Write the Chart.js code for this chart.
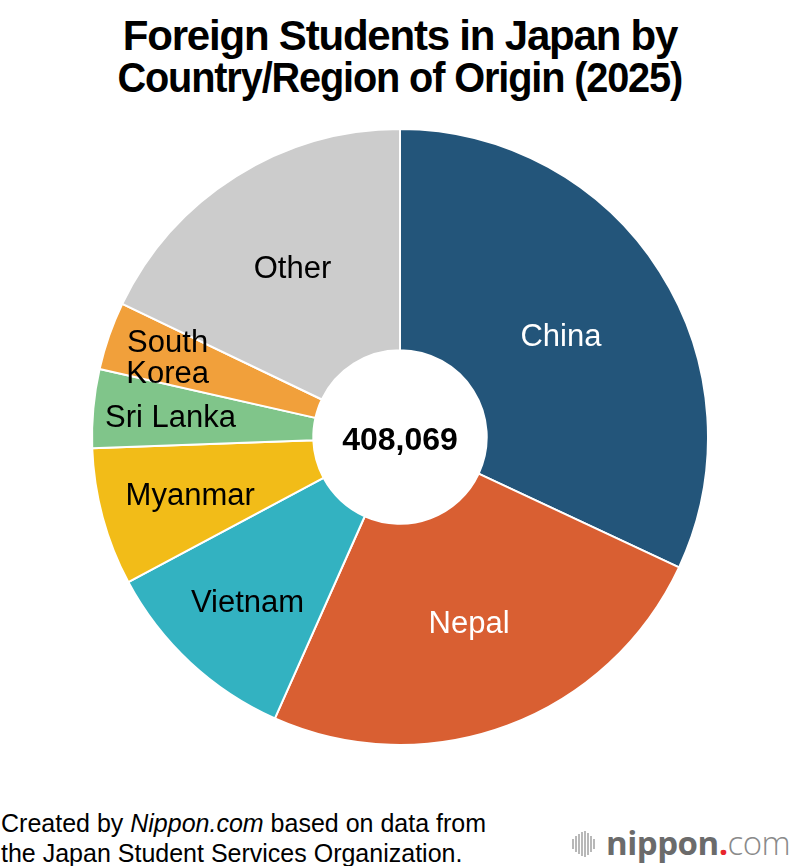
<!DOCTYPE html>
<html>
<head>
<meta charset="utf-8">
<script src="https://cdn.jsdelivr.net/npm/chart.js@4.4.1/dist/chart.umd.min.js"></script>
<style>
  html, body { margin: 0; padding: 0; background: #fff; }
  body { width: 800px; height: 866px; position: relative; overflow: hidden; font-family: "Liberation Sans", Arial, sans-serif; }
  .title { position: absolute; left: 0; top: 15px; width: 800px; text-align: center; font-weight: bold; font-size: 42px; line-height: 42px; letter-spacing: -1.2px; color: #000; }
  .title span { display: inline-block; }
  .title .l2 { transform: scaleX(0.945); }
  #wrap { position: absolute; left: 90px; top: 127px; width: 620px; height: 620px; }
  .source { position: absolute; left: 1px; top: 808px; font-size: 25px; line-height: 30px; color: #000; }
  .logo { position: absolute; left: 572px; top: 822px; height: 40px; display: flex; align-items: center; }
  .bars { display: flex; align-items: center; height: 26px; margin-right: 10px; margin-top: 4px; }
  .bars span { display: block; width: 1.5px; background: #b8b8b8; margin-right: 1.5px; }
  .brand { font-family: "Open Sans", sans-serif; font-size: 33px; color: #6b6b6b; letter-spacing: -0.5px; }
  .brand b { font-weight: 700; }
  .brand .dot { color: #e8262c; font-weight: 700; }
  .brand .com { font-weight: 300; color: #8a8a8a; }
</style>
</head>
<body>
<div class="title"><span>Foreign Students in Japan by</span><br><span class="l2">Country/Region of Origin (2025)</span></div>
<div id="wrap"><canvas id="pie" width="620" height="620"></canvas></div>
<div class="source">Created by <i>Nippon.com</i> based on data from<br>the Japan Student Services Organization.</div>
<div class="logo">
  <div class="bars">
    <span style="height:10px"></span><span style="height:16px"></span><span style="height:20px"></span><span style="height:24px"></span><span style="height:26px"></span><span style="height:22px"></span><span style="height:16px"></span><span style="height:10px"></span>
  </div>
  <div class="brand"><b>nippon</b><span class="dot">.</span><span class="com">com</span></div>
</div>
<script>
// values (total 408,069)
const countries = ['China', 'Nepal', 'Vietnam', 'Myanmar', 'Sri Lanka', 'South Korea', 'Other'];
const students = [130400, 100800, 43000, 29500, 16800, 14600, 72969];
const sliceColors = ['#23557a', '#d95f32', '#33b2c1', '#f2bc18', '#80c58a', '#f1a03b', '#cccccc'];
const labelColors = ['#fff', '#fff', '#000', '#000', '#000', '#000', '#000'];

// where each label sits between hole and rim (0 = hole, 1 = rim)
const labelDepth = { 'China': 0.47, 'Nepal': 0.5, 'Vietnam': 0.62, 'Myanmar': 0.59, 'Sri Lanka': 0.65, 'South Korea': 0.72, 'Other': 0.52 };

const sliceLabels = {
    id: 'sliceLabels',
    afterDatasetsDraw(chart) {
        const ctx = chart.ctx;
        const meta = chart.getDatasetMeta(0);
        ctx.save();
        ctx.font = '31px "Liberation Sans", Arial, sans-serif';
        ctx.textAlign = 'center';
        ctx.textBaseline = 'middle';
        meta.data.forEach((arc, i) => {
            const p = arc.getProps(['x', 'y', 'startAngle', 'endAngle', 'innerRadius', 'outerRadius'], true);
            const mid = (p.startAngle + p.endAngle) / 2;
            const r = p.innerRadius + (p.outerRadius - p.innerRadius) * labelDepth[countries[i]];
            const x = p.x + Math.cos(mid) * r;
            const y = p.y + Math.sin(mid) * r + 3;
            ctx.fillStyle = labelColors[i];
            const lines = countries[i] === 'South Korea' ? ['South', 'Korea'] : [countries[i]];
            lines.forEach((t, k) => {
                ctx.fillText(t, x, y + (k - (lines.length - 1) / 2) * 31);
            });
        });
        // total in the hole
        const total = students.reduce((a, b) => a + b, 0);
        ctx.fillStyle = '#000';
        ctx.font = 'bold 32px "Liberation Sans", Arial, sans-serif';
        ctx.fillText(total.toLocaleString('en-US'), meta.data[0].x, meta.data[0].y + 4);
        ctx.restore();
    }
};

new Chart(document.getElementById('pie'), {
    type: 'doughnut',
    data: {
        labels: countries,
        datasets: [{
            data: students,
            backgroundColor: sliceColors,
            borderColor: '#fff',
            borderWidth: 2,
            hoverOffset: 0
        }]
    },
    options: {
        responsive: false,
        animation: false,
        radius: 308,
        cutout: 87,
        layout: { padding: 0 },
        plugins: { legend: { display: false }, tooltip: { enabled: false } },
        events: []
    },
    plugins: [sliceLabels]
});
</script>
</body>
</html>
